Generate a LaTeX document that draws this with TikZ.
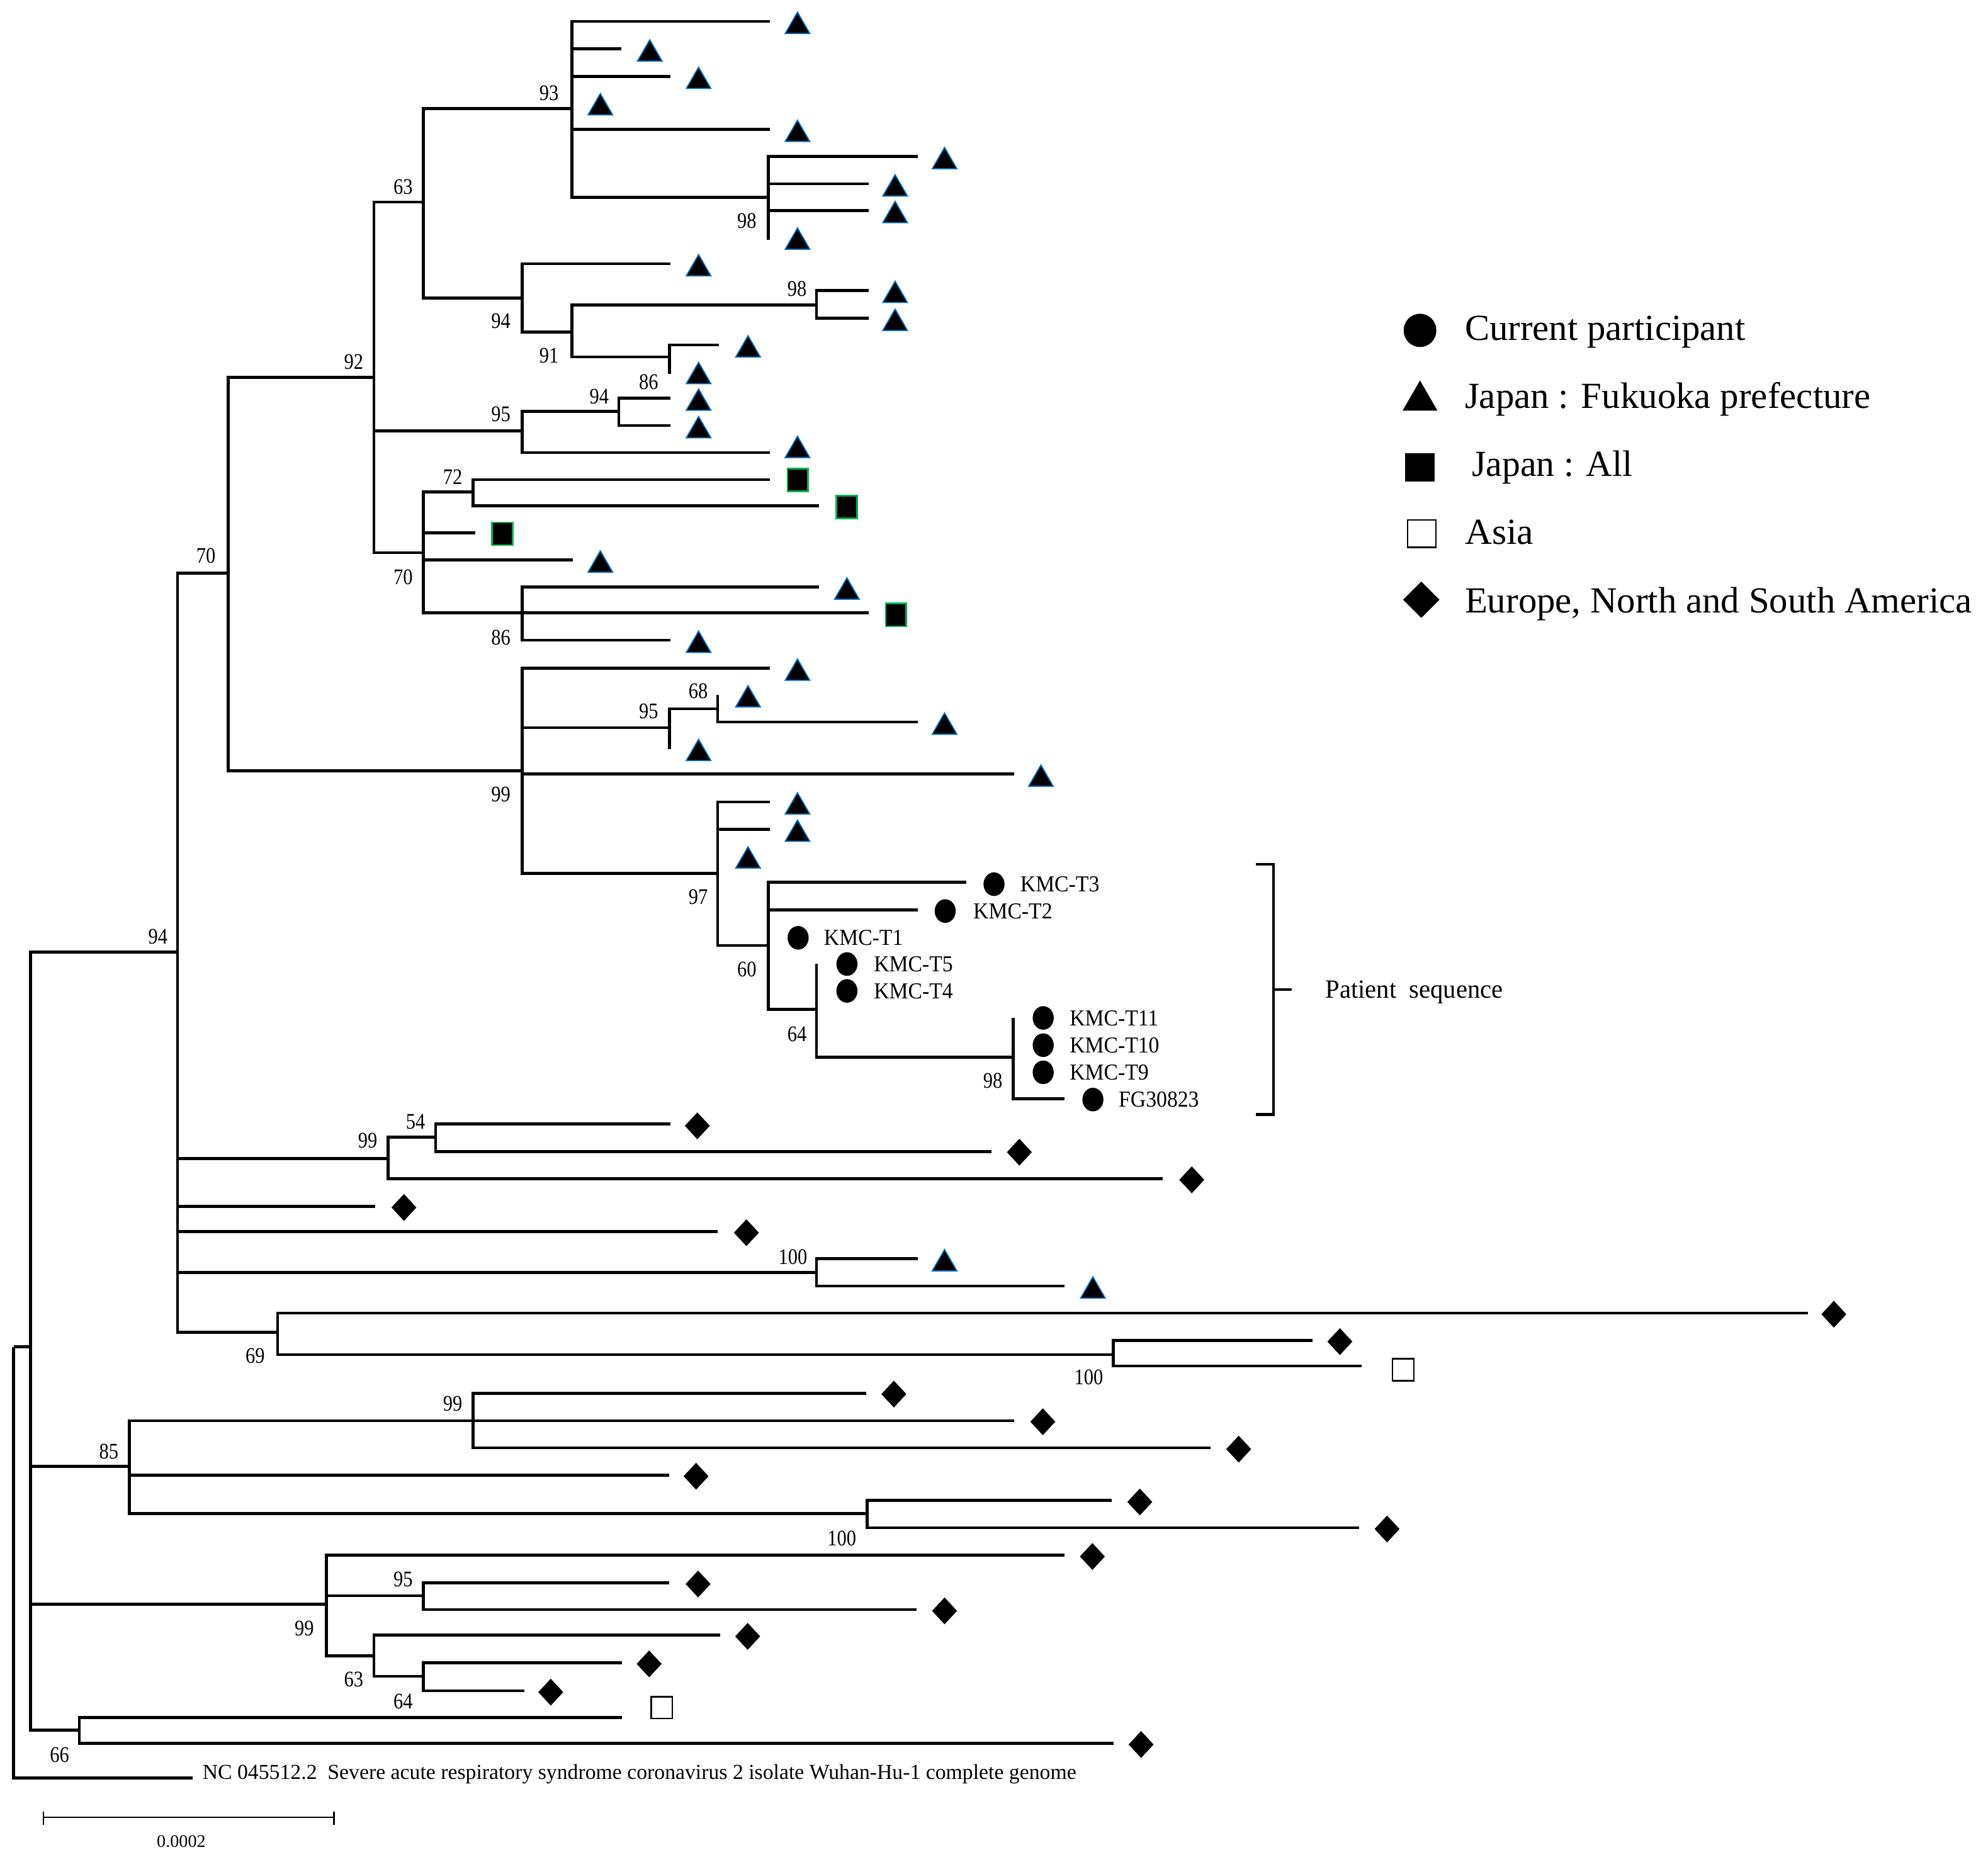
\documentclass[tikz,border=0pt]{standalone}
\usepackage{graphicx}
\usepackage{fontspec}
\setmainfont{Liberation Serif}
\usetikzlibrary{shapes.geometric}
\definecolor{triblue}{RGB}{0,112,192}
\definecolor{sqgreen}{RGB}{0,176,80}
\newcommand{\tnode}[4]{\coordinate (#2) at (#3,#4); \draw[br] (#1) |- (#2);}
\newcommand{\tleaf}[7]{\coordinate (#2) at (#3,#4); \draw[br] (#1) |- (#2); \node[#5] (#2m) at (#6,{#4+#7}) {};}
\newcommand{\bootlab}[4]{\node[bsl] (#1) at (#2,#3) {\scalebox{0.86}[1]{#4}};}
\begin{document}
\begin{tikzpicture}[x=0.5pt,y=-0.5pt,
  br/.style={line width=1.15pt,line join=miter},
  tri/.style={regular polygon,regular polygon sides=3,minimum size=11.2pt,inner sep=0pt,fill=black,draw=triblue,line width=0.45pt},
  dia/.style={diamond,minimum width=10pt,minimum height=10.75pt,inner sep=0pt,fill=black},
  circ/.style={ellipse,minimum width=8.3pt,minimum height=9.3pt,inner sep=0pt,fill=black},
  sqf/.style={rectangle,minimum width=8.15pt,minimum height=8.95pt,inner sep=0pt,fill=black,draw=sqgreen,line width=0.65pt},
  sqo/.style={rectangle,minimum width=8.4pt,minimum height=8.6pt,inner sep=0pt,fill=white,draw=black,line width=0.6pt},
  lcirc/.style={ellipse,minimum width=12.9pt,minimum height=13.15pt,inner sep=0pt,fill=black},
  ltri/.style={regular polygon,regular polygon sides=3,minimum size=15.9pt,inner sep=0pt,fill=black},
  lsqf/.style={rectangle,minimum width=11.7pt,minimum height=11.1pt,inner sep=0pt,fill=black},
  lsqo/.style={rectangle,minimum width=11.1pt,minimum height=10.8pt,inner sep=0pt,fill=white,draw=black,line width=0.6pt},
  ldia/.style={diamond,minimum width=14.5pt,minimum height=14.5pt,inner sep=0pt,fill=black},
  bsl/.style={inner sep=0pt,anchor=center,font=\fontsize{8.8}{10}\selectfont},
  kl/.style={inner sep=0pt,anchor=base west,font=\fontsize{9}{10}\selectfont},
  lgt/.style={inner sep=0pt,anchor=base west,font=\fontsize{14.5}{16}\selectfont},
  brk/.style={line width=1.1pt,line join=miter},
  sbar/.style={line width=0.65pt}]
\useasboundingbox (0,0) rectangle (1568,1468.2);
% root
\coordinate (R) at (10.8,1062.4);
\tnode{R}{I}{24}{1062.4}
\coordinate (NC) at (152,1402.3);
\draw[br] (R) |- (NC);
\node[inner sep=0pt,anchor=base west,font=\fontsize{8.4}{10}\selectfont] (nctext) at (159.4,1403.5)
  {\resizebox{344.5pt}{\height}{NC 045512.2\ \ Severe acute respiratory syndrome coronavirus 2 isolate Wuhan-Hu-1 complete genome}};
% ingroup
\tnode{I}{A94}{140}{751}
\tnode{I}{A85}{102}{1156.7}
\tnode{I}{A99c}{257.5}{1265.2}
\tnode{I}{A66}{62.6}{1364.8}
% A94
\tnode{A94}{A70o}{180}{452}
\tnode{A94}{A99b}{306}{913.7}
\tleaf{A94}{L27}{296}{951.4}{dia}{318.6}{1}
\tleaf{A94}{L28}{566}{971.3}{dia}{588.7}{1}
\tnode{A94}{A100a}{644}{1003.7}
\tnode{A94}{A69}{219}{1050.7}
% A70o
\tnode{A70o}{A92}{295}{297.7}
\tnode{A70o}{A99a}{412}{608}
% A92
\tnode{A92}{A63}{334}{159.3}
\tnode{A92}{A95a}{412}{340}
\tnode{A92}{A70i}{334}{436}
% A63
\tnode{A63}{A93}{451}{85.5}
\tnode{A63}{A94i}{412}{235}
\tleaf{A93}{L1}{607}{16.8}{tri}{629}{4}
\tleaf{A93}{L2}{490}{38.6}{tri}{512.5}{4}
\tleaf{A93}{L3}{529}{60.2}{tri}{551}{4}
\tleaf{A93}{L4}{451}{82}{tri}{473.5}{3}
\tleaf{A93}{L5}{607}{102}{tri}{629}{4}
\tnode{A93}{A98a}{606}{155.8}
\tleaf{A98a}{L6}{724}{123.5}{tri}{745}{4}
\tleaf{A98a}{L7}{685}{145}{tri}{706}{4}
\tleaf{A98a}{L8}{685}{166}{tri}{706}{4}
\tleaf{A98a}{L9}{606}{189}{tri}{629}{2}
\tleaf{A94i}{L10}{529}{208}{tri}{551}{4}
\tnode{A94i}{A91}{451}{262}
\tnode{A91}{A98b}{644}{240.7}
\tleaf{A98b}{L11}{685}{229}{tri}{706}{4}
\tleaf{A98b}{L12}{685}{251}{tri}{706}{4}
\tnode{A91}{A86a}{528}{281.5}
\tleaf{A86a}{L13}{567}{272}{tri}{590}{4}
\tleaf{A86a}{L14}{528}{295}{tri}{551}{2}
% A95a
\tnode{A95a}{A94b}{488}{324.6}
\tleaf{A94b}{L15}{529}{314}{tri}{551}{4}
\tleaf{A94b}{L16}{529}{335.7}{tri}{551}{4}
\tleaf{A95a}{L17}{607}{357}{tri}{629}{-1.7}
% A70i
\tnode{A70i}{A72}{373}{388}
\tleaf{A72}{L18}{607}{378.4}{sqf}{629.2}{0.3}
\tleaf{A72}{L19}{646}{399}{sqf}{667.7}{0.8}
\tleaf{A70i}{L20}{375}{420.2}{sqf}{396.2}{0.8}
\tleaf{A70i}{L21}{452}{441.7}{tri}{473.5}{4}
\tnode{A70i}{A86b}{412}{483.5}
\tleaf{A86b}{L22}{646}{463}{tri}{668}{4}
\tleaf{A86b}{L23}{685}{483.5}{sqf}{706.7}{1.5}
\tleaf{A86b}{L24}{529}{505}{tri}{551}{4}
% A99a
\tleaf{A99a}{L25}{607}{527}{tri}{629}{4}
\tnode{A99a}{A95b}{528}{574}
\tnode{A95b}{A68}{566}{559}
\tleaf{A68}{L26}{566}{548}{tri}{590}{4}
\tleaf{A68}{L26b}{724}{569.5}{tri}{745}{4}
\tleaf{A95b}{L26c}{528}{590.7}{tri}{551}{3.6}
\tleaf{A99a}{L29}{800}{610.6}{tri}{821}{4}
\tnode{A99a}{A97}{566}{689}
\tleaf{A97}{L30}{607}{632.5}{tri}{629}{4}
\tleaf{A97}{L31}{607}{654}{tri}{629}{4}
\tleaf{A97}{L32}{566}{676.8}{tri}{590}{2.3}
\tnode{A97}{A60}{606}{745.7}
\tleaf{A60}{T3}{762}{696}{circ}{784}{1.4}
\tleaf{A60}{T2}{724}{717.6}{circ}{745.5}{1}
\tleaf{A60}{T1}{606}{739.5}{circ}{629.5}{0.2}
\tnode{A60}{A64}{644}{796}
\tleaf{A64}{T5}{644}{760}{circ}{668}{0.4}
\tleaf{A64}{T4}{644}{782}{circ}{668}{-0.4}
\tnode{A64}{A98c}{799}{834}
\tleaf{A98c}{T11}{799}{802.8}{circ}{822.8}{0.1}
\tleaf{A98c}{T10}{799}{824}{circ}{822.8}{0.4}
\tleaf{A98c}{T9}{799}{845.6}{circ}{822.8}{0.2}
\tleaf{A98c}{FG}{839.5}{866.6}{circ}{862}{0.7}
\node[kl] (T3t) at (804.4,703.4) {\scalebox{0.93}[1]{KMC-T3}};
\node[kl] (T2t) at (767.3,724.6) {\scalebox{0.93}[1]{KMC-T2}};
\node[kl] (T1t) at (649.5,745.7) {\scalebox{0.93}[1]{KMC-T1}};
\node[kl] (T5t) at (688.9,766.4) {\scalebox{0.93}[1]{KMC-T5}};
\node[kl] (T4t) at (688.9,787.6) {\scalebox{0.93}[1]{KMC-T4}};
\node[kl] (T11t) at (843.3,808.9) {\scalebox{0.93}[1]{KMC-T11}};
\node[kl] (T10t) at (843.3,830.4) {\scalebox{0.93}[1]{KMC-T10}};
\node[kl] (T9t) at (843.3,851.8) {\scalebox{0.93}[1]{KMC-T9}};
\node[kl] (FGt) at (882,873.3) {\scalebox{0.93}[1]{FG30823}};
% A99b
\tnode{A99b}{A54}{343.5}{897}
\tleaf{A54}{L33}{529}{886.6}{dia}{550}{1.4}
\tleaf{A54}{L34}{782}{908.4}{dia}{804}{0.4}
\tleaf{A99b}{L35}{917}{929.6}{dia}{940}{1}
% A100a
\tleaf{A100a}{L36}{724}{992.8}{tri}{745}{4}
\tleaf{A100a}{L37}{839.6}{1014.3}{tri}{862}{4}
% A69
\tleaf{A69}{L38}{1426}{1035.8}{dia}{1446.4}{0.8}
\tnode{A69}{A100b}{878}{1068.4}
\tleaf{A100b}{L39}{1035}{1057.3}{dia}{1056.8}{0.9}
\tleaf{A100b}{L40}{1074}{1077.5}{sqo}{1106.7}{2.9}
% A85
\tnode{A85}{A99d}{373}{1120.6}
\tleaf{A99d}{L41}{683}{1099}{dia}{705}{0.6}
\tleaf{A99d}{L42}{800}{1120.6}{dia}{822.5}{0.8}
\tleaf{A99d}{L43}{955}{1142}{dia}{977}{1}
\tleaf{A85}{L44}{528}{1163.5}{dia}{549}{0.9}
\tnode{A85}{A100c}{684}{1194}
\tleaf{A100c}{L45}{876.6}{1183.5}{dia}{899}{1.2}
\tleaf{A100c}{L46}{1072}{1205}{dia}{1094}{1}
% A99c
\tleaf{A99c}{L47}{839.4}{1226.7}{dia}{861.6}{1}
\tnode{A99c}{A95c}{334}{1258.7}
\tleaf{A95c}{L48}{528}{1248.4}{dia}{550.6}{1}
\tleaf{A95c}{L49}{723}{1269.6}{dia}{745}{1}
\tnode{A99c}{A63b}{295}{1306}
\tleaf{A63b}{L50}{568}{1289.7}{dia}{589.7}{1}
\tnode{A63b}{A64b}{334}{1322.2}
\tleaf{A64b}{L51}{490.4}{1311.4}{dia}{512}{1}
\tleaf{A64b}{L52}{413.4}{1333.7}{dia}{434.4}{1}
% A66
\tleaf{A66}{L53}{490.4}{1354.8}{sqo}{522}{-7.9}
\tleaf{A66}{L54}{878.5}{1375}{dia}{900}{1}
% bootstrap labels
\bootlab{b93}{433}{73.3}{93}
\bootlab{b63}{318}{147.3}{63}
\bootlab{b98a}{589}{174}{98}
\bootlab{b98b}{628.6}{227.7}{98}
\bootlab{b94i}{395}{253.3}{94}
\bootlab{b91}{433}{280.3}{91}
\bootlab{b92}{279}{285.6}{92}
\bootlab{b86a}{511.6}{301.5}{86}
\bootlab{b94b}{472.6}{312.8}{94}
\bootlab{b95a}{395}{326.8}{95}
\bootlab{b72}{357}{376.2}{72}
\bootlab{b70o}{162.4}{438.5}{70}
\bootlab{b70i}{318}{455}{70}
\bootlab{b86b}{395}{503}{86}
\bootlab{b68}{550.7}{545.3}{68}
\bootlab{b95b}{511.6}{561}{95}
\bootlab{b99a}{395}{626.8}{99}
\bootlab{b97}{550.7}{707.6}{97}
\bootlab{b60}{589}{764.4}{60}
\bootlab{b64}{628.6}{815.6}{64}
\bootlab{b98c}{783}{852.6}{98}
\bootlab{b94o}{124.6}{739}{94}
\bootlab{b54}{327.7}{885}{54}
\bootlab{b99b}{290}{899.4}{99}
\bootlab{b100a}{625.4}{991.3}{100}
\bootlab{b69}{201.3}{1069.3}{69}
\bootlab{b100b}{858.7}{1086.5}{100}
\bootlab{b85}{85.8}{1145}{85}
\bootlab{b99d}{357}{1107}{99}
\bootlab{b100c}{664}{1213.5}{100}
\bootlab{b95c}{318}{1245.6}{95}
\bootlab{b99c}{240}{1284.4}{99}
\bootlab{b63b}{279}{1324.5}{63}
\bootlab{b64b}{318}{1342}{64}
\bootlab{b66}{47}{1384}{66}
% bracket
\coordinate (k1) at (990.6,681.6);
\coordinate (k2) at (1004.5,681.6);
\coordinate (k3) at (1004.5,879);
\coordinate (k4) at (990.6,879);
\coordinate (k5) at (1004.5,780.4);
\coordinate (k6) at (1019,780.4);
\draw[brk] (k1) -- (k2) -- (k3) -- (k4);
\draw[brk] (k5) -- (k6);
\node[inner sep=0pt,anchor=base west,font=\fontsize{10.4}{12}\selectfont] (pst) at (1045,787)
  {\resizebox{70pt}{\height}{Patient\ \ sequence}};
% scale bar
\coordinate (s1) at (34.3,1433.5);
\coordinate (s2) at (263.5,1433.5);
\coordinate (s1a) at (34.3,1429);
\coordinate (s1b) at (34.3,1439.5);
\coordinate (s2a) at (263.5,1429);
\coordinate (s2b) at (263.5,1439.5);
\draw[sbar] (s1) -- (s2);
\draw[sbar] (s1a) -- (s1b);
\draw[sbar] (s2a) -- (s2b);
\node[inner sep=0pt,font=\fontsize{7}{8}\selectfont] (sbl) at (143,1452.5) {0.0002};
% legend
\node[lcirc] (g1) at (1120,260.6) {};
\node[ltri] (g2) at (1120,316) {};
\node[lsqf] (g3) at (1120,368.7) {};
\node[lsqo] (g4) at (1121.4,421) {};
\node[ldia] (g5) at (1121,473) {};
\node[lgt] (g1t) at (1155,268.2) {\resizebox{110.6pt}{\height}{Current participant}};
\node[lgt] (g2t) at (1155,322.1) {\resizebox{160pt}{\height}{Japan : Fukuoka prefecture}};
\node[lgt] (g3t) at (1160.6,375.6) {\resizebox{63.3pt}{\height}{Japan : All}};
\node[lgt] (g4t) at (1155,429.2) {\resizebox{27.1pt}{\height}{Asia}};
\node[lgt] (g5t) at (1155,483.3) {\resizebox{200pt}{\height}{Europe, North and South America}};
\end{tikzpicture}
\end{document}
